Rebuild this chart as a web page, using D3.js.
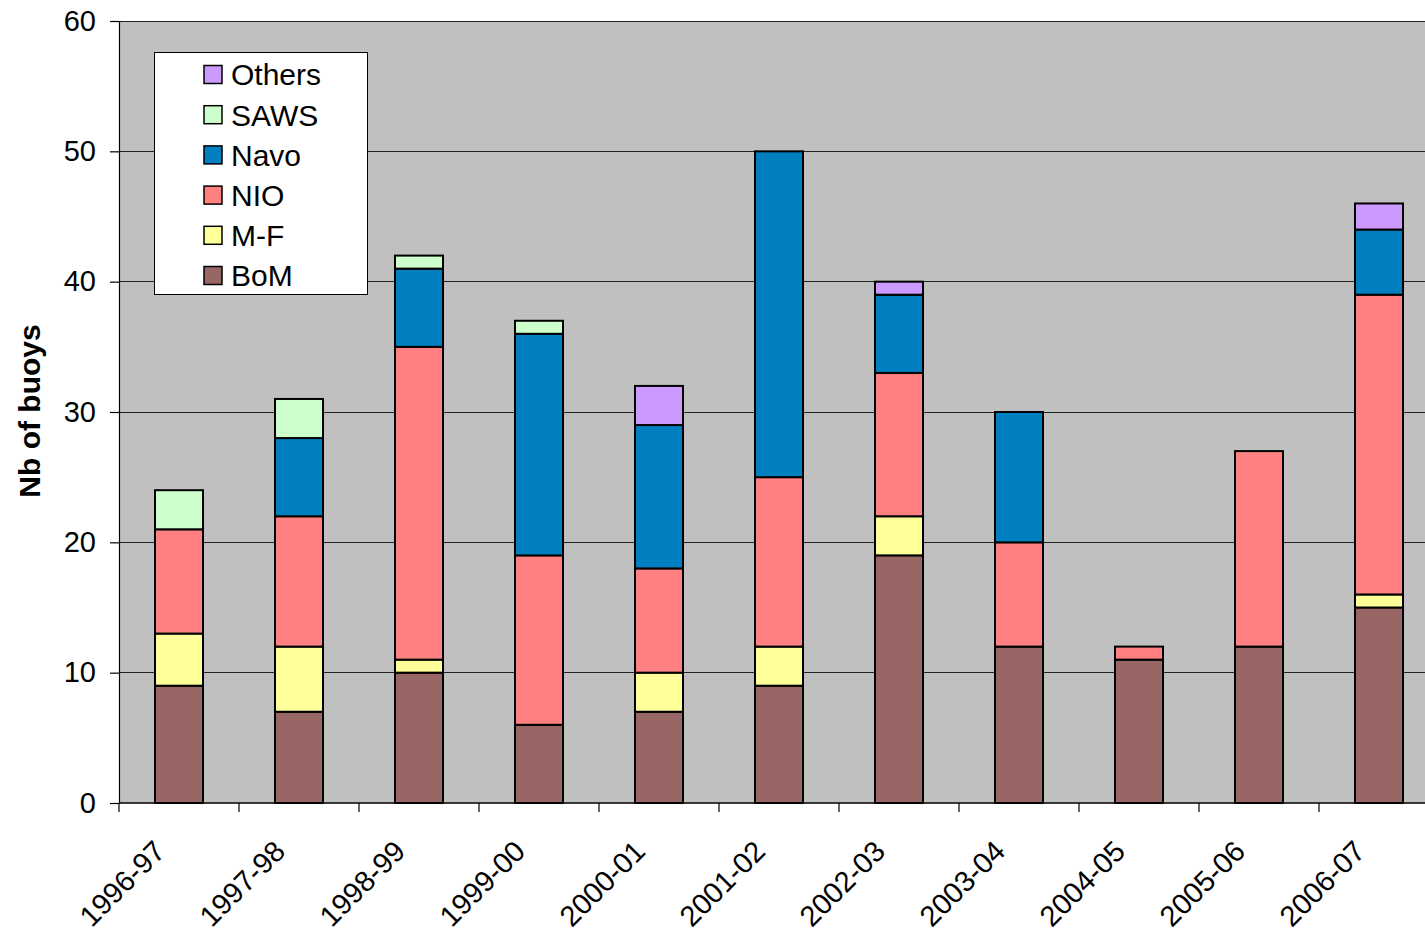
<!DOCTYPE html>
<html><head><meta charset="utf-8">
<script src="https://cdn.jsdelivr.net/npm/d3@7"></script>
<style>body{margin:0;background:#fff;overflow:hidden}svg{display:block}</style>
</head><body><svg id="c" width="1425" height="935"></svg>
<script>
const categories = ["1996-97","1997-98","1998-99","1999-00","2000-01","2001-02","2002-03","2003-04","2004-05","2005-06","2006-07"];
const seriesNames = ["BoM","M-F","NIO","Navo","SAWS","Others"];
const BoM    = [9, 7, 10, 6, 7, 9, 19, 12, 11, 12, 15];
const MF     = [4, 5, 1, 0, 3, 3, 3, 0, 0, 0, 1];
const NIO    = [8, 10, 24, 13, 8, 13, 11, 8, 1, 15, 23];
const Navo   = [0, 6, 6, 17, 11, 25, 6, 10, 0, 0, 5];
const SAWS   = [3, 3, 1, 1, 0, 0, 0, 0, 0, 0, 0];
const Others = [0, 0, 0, 0, 3, 0, 1, 0, 0, 0, 2];
const yTicks = [0,10,20,30,40,50,60];
const colors = ["#996666","#FFFF99","#FF8080","#0080C0","#CCFFCC","#CC99FF"];

const values = [BoM, MF, NIO, Navo, SAWS, Others];
const table = categories.map((c,i)=>{const o={cat:c}; seriesNames.forEach((s,j)=>o[s]=values[j][i]); return o;});
const stack = d3.stack().keys(seriesNames)(table);
const FONT = "Liberation Sans, Arial, sans-serif";

const svg = d3.select("#c");
const L=119, R=1439, T=21, B=803;
const xb = d3.scaleBand().domain(categories).range([L,R]);
const y = d3.scaleLinear().domain([0,60]).range([B,T]);

svg.append("rect").attr("x",L).attr("y",T).attr("width",R-L).attr("height",B-T).attr("fill","#C0C0C0");
svg.append("g").selectAll("line").data(yTicks.slice(1)).join("line")
  .attr("x1",L).attr("x2",R).attr("y1",d=>y(d)).attr("y2",d=>y(d))
  .attr("stroke","#222").attr("stroke-width",1).attr("shape-rendering","crispEdges");

svg.append("g").selectAll("g").data(stack).join("g")
  .attr("fill",(d,i)=>colors[i])
  .selectAll("rect").data(d=>d.filter(p=>p[1]-p[0]>0)).join("rect")
  .attr("x",d=>xb(d.data.cat)+36).attr("width",48)
  .attr("y",d=>y(d[1])).attr("height",d=>y(d[0])-y(d[1]))
  .attr("stroke","#000").attr("stroke-width",2);

// Y axis
const ya = svg.append("g").attr("transform",`translate(${L},0)`)
  .call(d3.axisLeft(y).tickValues(yTicks).tickSize(9).tickPadding(14));
ya.selectAll("text").attr("font-family",FONT).attr("font-size",29).attr("fill","#000");
ya.selectAll("line,path").attr("stroke","#000").attr("stroke-width",1.2);

// X axis line and ticks at boundaries
svg.append("line").attr("x1",L).attr("x2",R).attr("y1",B).attr("y2",B).attr("stroke","#000").attr("stroke-width",1.5);
svg.append("g").selectAll("line").data(categories).join("line")
  .attr("x1",d=>xb(d)).attr("x2",d=>xb(d)).attr("y1",B).attr("y2",B+9).attr("stroke","#000").attr("stroke-width",1.2);
svg.append("g").selectAll("text").data(categories).join("text")
  .attr("transform",d=>`translate(${xb(d)+xb.bandwidth()/2-12},${B+50}) rotate(-45)`)
  .attr("text-anchor","end")
  .attr("font-family",FONT).attr("font-size",29).text(d=>d);

svg.append("text").attr("transform",`translate(40,${411}) rotate(-90)`)
  .attr("text-anchor","middle").attr("font-family",FONT)
  .attr("font-size",30).attr("font-weight","bold").text("Nb of buoys");

// Legend
const lg = svg.append("g");
lg.append("rect").attr("x",154.5).attr("y",52.5).attr("width",213).attr("height",242).attr("fill","#fff").attr("stroke","#000");
const legItems = seriesNames.map((s,i)=>({s,c:colors[i]})).reverse();
const li = lg.selectAll("g").data(legItems).join("g").attr("transform",(d,i)=>`translate(0,${74.5+i*40.2})`);
li.append("rect").attr("x",204).attr("y",-9).attr("width",18).attr("height",18).attr("fill",d=>d.c).attr("stroke","#000").attr("stroke-width",1.5);
li.append("text").attr("x",231).attr("y",0).attr("dy","0.36em").attr("font-family",FONT)
  .attr("font-size",30).text(d=>d.s);
</script></body></html>
